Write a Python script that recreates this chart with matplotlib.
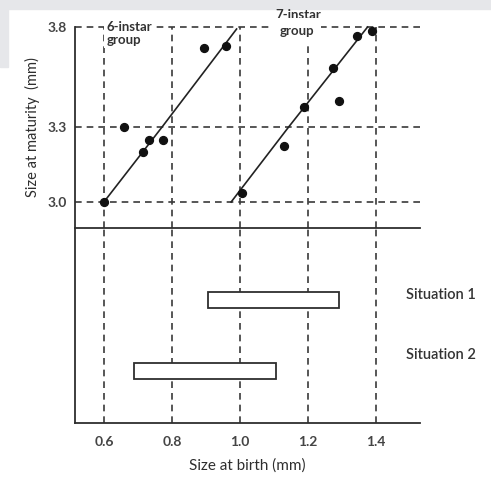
import numpy as np
import matplotlib
matplotlib.use('Agg')
from matplotlib import pyplot as plt
from matplotlib.patches import Rectangle

plt.rcParams['font.family'] = ['Lato', 'DejaVu Sans']

# 6-instar group (size at birth, size at maturity)
birth_6 = [0.60, 0.66, 0.715, 0.732, 0.773, 0.894, 0.958]
mature_6 = [3.00, 3.30, 3.20, 3.25, 3.25, 3.695, 3.705]
fit6_x = [0.60, 0.771, 0.99]
fit6_y = [3.00, 3.30, 3.79]

# 7-instar group
birth_7 = [1.006, 1.129, 1.188, 1.274, 1.292, 1.345, 1.388]
mature_7 = [3.036, 3.224, 3.40, 3.595, 3.43, 3.755, 3.78]
fit7_x = [0.974, 1.143, 1.375]
fit7_y = [3.00, 3.30, 3.80]

# birth size ranges
situations = ['Situation 1', 'Situation 2']
sit_lo = [0.905, 0.688]
sit_hi = [1.29, 1.105]

xticks = [0.6, 0.8, 1.0, 1.2, 1.4]
yticks = [3.0, 3.3, 3.8]

ink = '#2e2e2e'
grid_kw = dict(color='#3a3a3a', ls=(0, (4, 3)), lw=1.2, clip_on=False, zorder=1)


# the y axis in the original is not evenly spaced
def fwd(y):
    y = np.asarray(y, float)
    return np.where(y <= 3.3, (y - 3.0) * 250, 75 + (y - 3.3) * 200)


def inv(v):
    v = np.asarray(v, float)
    return np.where(v <= 75, 3.0 + v / 250, 3.3 + (v - 75) / 200)


fig = plt.figure(figsize=(4.91, 4.79), dpi=100)
fig.patches.append(Rectangle((0, 1 - 9/479), 1, 9/479, transform=fig.transFigure,
                             color='#e6e7ea', zorder=-1))
fig.patches.append(Rectangle((0, 1 - 67/479), 8/491, 58/479, transform=fig.transFigure,
                             color='#e6e7ea', zorder=-1))

ax1 = fig.add_axes([0.1527, 0.524, 0.7026, 0.4196])
ax2 = fig.add_axes([0.1527, 0.1169, 0.7026, 0.4071])

for ax in (ax1, ax2):
    ax.patch.set_alpha(0)
    ax.set_xlim(0.515, 1.529)
    ax.spines['top'].set_visible(False)
    ax.spines['right'].set_visible(False)
    for s in ('left', 'bottom'):
        ax.spines[s].set_color(ink)
        ax.spines[s].set_linewidth(1.3)
    for xv in xticks:
        ax.axvline(xv, **grid_kw)

ax1.set_yscale('function', functions=(fwd, inv))
ax1.set_ylim(2.896, 3.8)
for yv in yticks:
    ax1.axhline(yv, **grid_kw)

ax1.plot(fit6_x, fit6_y, color='#222222', lw=1.2, zorder=3, clip_on=False)
ax1.plot(fit7_x, fit7_y, color='#222222', lw=1.2, zorder=3, clip_on=False)
ax1.scatter(birth_6, mature_6, s=32, color='#111111', zorder=4, clip_on=False)
ax1.scatter(birth_7, mature_7, s=32, color='#111111', zorder=4, clip_on=False)

ax1.set_xticks([])
ax1.set_yticks(yticks)
ax1.set_yticklabels(['3.0', '3.3', '3.8'], fontsize=10, fontweight='bold', color='#444444')
ax1.tick_params(axis='y', length=0, pad=6)
ax1.set_ylabel('Size at maturity  (mm)', fontsize=10.5, color=ink, labelpad=5)

box = dict(facecolor='white', edgecolor='none', pad=1.5)
ax1.text(0.607, 3.83, '6-instar\ngroup', fontsize=9.5, fontweight='bold', color='#333333',
         ha='left', va='top', linespacing=1.05, bbox=box, zorder=5, clip_on=False)
ax1.text(1.17, 3.862, '7-instar', fontsize=9.5, fontweight='bold', color='#333333',
         ha='center', va='center', clip_on=False, zorder=5)
ax1.text(1.167, 3.78, 'group', fontsize=9.5, fontweight='bold', color='#333333',
         ha='center', va='center', bbox=dict(facecolor='white', edgecolor='none', pad=5),
         clip_on=False, zorder=5)

ax2.set_ylim(0, 1)
sit_y = [0.63, 0.267]
ax2.barh(sit_y, np.array(sit_hi) - np.array(sit_lo), left=sit_lo, height=0.082,
         facecolor='white', edgecolor=ink, lw=1.3, zorder=3)
for yv, name in zip([0.655, 0.35], situations):
    ax2.text(1.488, yv, name, fontsize=10.5, fontweight='semibold', color='#333333',
             ha='left', va='center', clip_on=False)

ax2.set_yticks([])
ax2.set_xticks(xticks)
ax2.set_xticklabels(['0.6', '0.8', '1.0', '1.2', '1.4'], fontsize=10,
                    fontweight='bold', color='#444444')
ax2.tick_params(axis='x', length=0, pad=9)
ax2.set_xlabel('Size at birth (mm)', fontsize=11, color=ink, labelpad=8)

fig.savefig('out.png', dpi=100)
